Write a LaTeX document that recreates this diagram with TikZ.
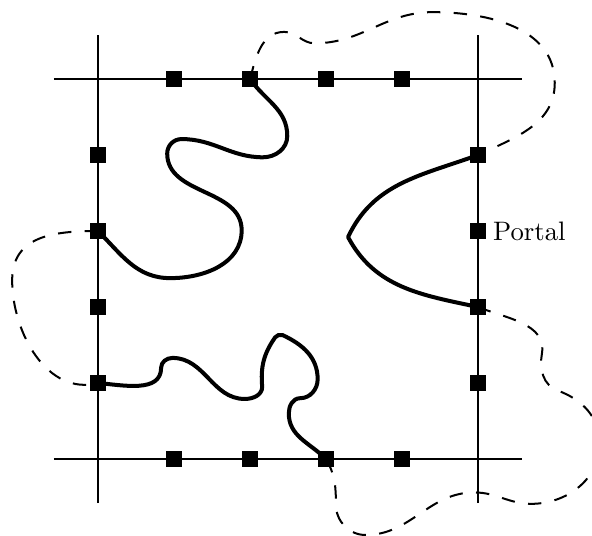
\documentclass[tikz,border=0pt]{standalone}
\usepackage{tikz}
\usetikzlibrary{positioning}

\begin{document}
\begin{tikzpicture}[
    portal/.style={rectangle, fill=black, minimum size=6pt, inner sep=0pt},
    gridline/.style={line width=0.4pt},
    route/.style={line width=1.5pt, line join=round},
    detour/.style={line width=0.75pt, dash pattern=on 5pt off 5pt},
    lbl/.style={inner sep=0pt}
]
\useasboundingbox (-1.29,-1.01) rectangle (6.5,6.04);

% Grid lines of the cell
\draw[gridline] (-0.58,0) -- (5.58,0);
\draw[gridline] (-0.58,5) -- (5.58,5);
\draw[gridline] (0,-0.58) -- (0,5.58);
\draw[gridline] (5,-0.58) -- (5,5.58);

% Portals
\foreach \i in {1,...,4} {
  \node[portal] (t\i) at (\i,5) {};
  \node[portal] (b\i) at (\i,0) {};
  \node[portal] (l\i) at (0,\i) {};
  \node[portal] (r\i) at (5,\i) {};
}
\node[lbl, right=0.08cm of r3] (plabel) {Portal};

% Paths inside the cell
\draw[route] (t2.center) to[out=-55, in=90] (2.49,4.25)
  to[out=-90, in=0] (2.17,3.97) to[out=180, in=0] (1.10,4.21)
  to[out=180, in=90] (0.91,4.02) to[out=-90, in=90] (1.89,3.01)
  to[out=-90, in=0] (0.95,2.38) to[out=180, in=-45] (l3.center);
\draw[route] (r4.center) to[out=200, in=65] (3.29,2.92)
  to[out=-62, in=168] (r2.center);
\draw[route] (l1.center) to[out=-5, in=-90] (0.83,1.20)
  to[out=90, in=180] (0.98,1.33) to[out=0, in=180] (1.93,0.79)
  to[out=0, in=-90] (2.16,0.95) to[out=95, in=-125] (2.33,1.60)
  to[out=55, in=165] (2.43,1.63) to[out=-25, in=90] (2.89,1.05)
  to[out=-90, in=0] (2.66,0.80) to[out=180, in=90] (2.51,0.60)
  to[out=-90, in=135] (b3.center);

% Paths leaving the cell
\draw[detour] (t2.center) to[out=75, in=180] (2.45,5.62)
  to[out=0, in=180] (2.85,5.47) to[out=0, in=180] (4.40,5.88)
  to[out=0, in=90] (6.01,4.95) to[out=-90, in=25] (r4.center);
\draw[detour] (l3.center) to[out=180, in=90, looseness=1.15] (-1.13,2.35)
  to[out=-90, in=195] (l1.center);
\draw[detour] (r2.center) to[out=-22, in=80] (5.84,1.38)
  to[out=-100, in=160] (6.05,0.90) to[out=-20, in=90] (6.60,0.20)
  to[out=-90, in=0] (5.70,-0.59) to[out=180, in=0] (4.95,-0.44)
  to[out=180, in=0] (3.52,-1.00) to[out=180, in=-90] (3.13,-0.60)
  to[out=90, in=-60] (b3.center);

\end{tikzpicture}
\end{document}
